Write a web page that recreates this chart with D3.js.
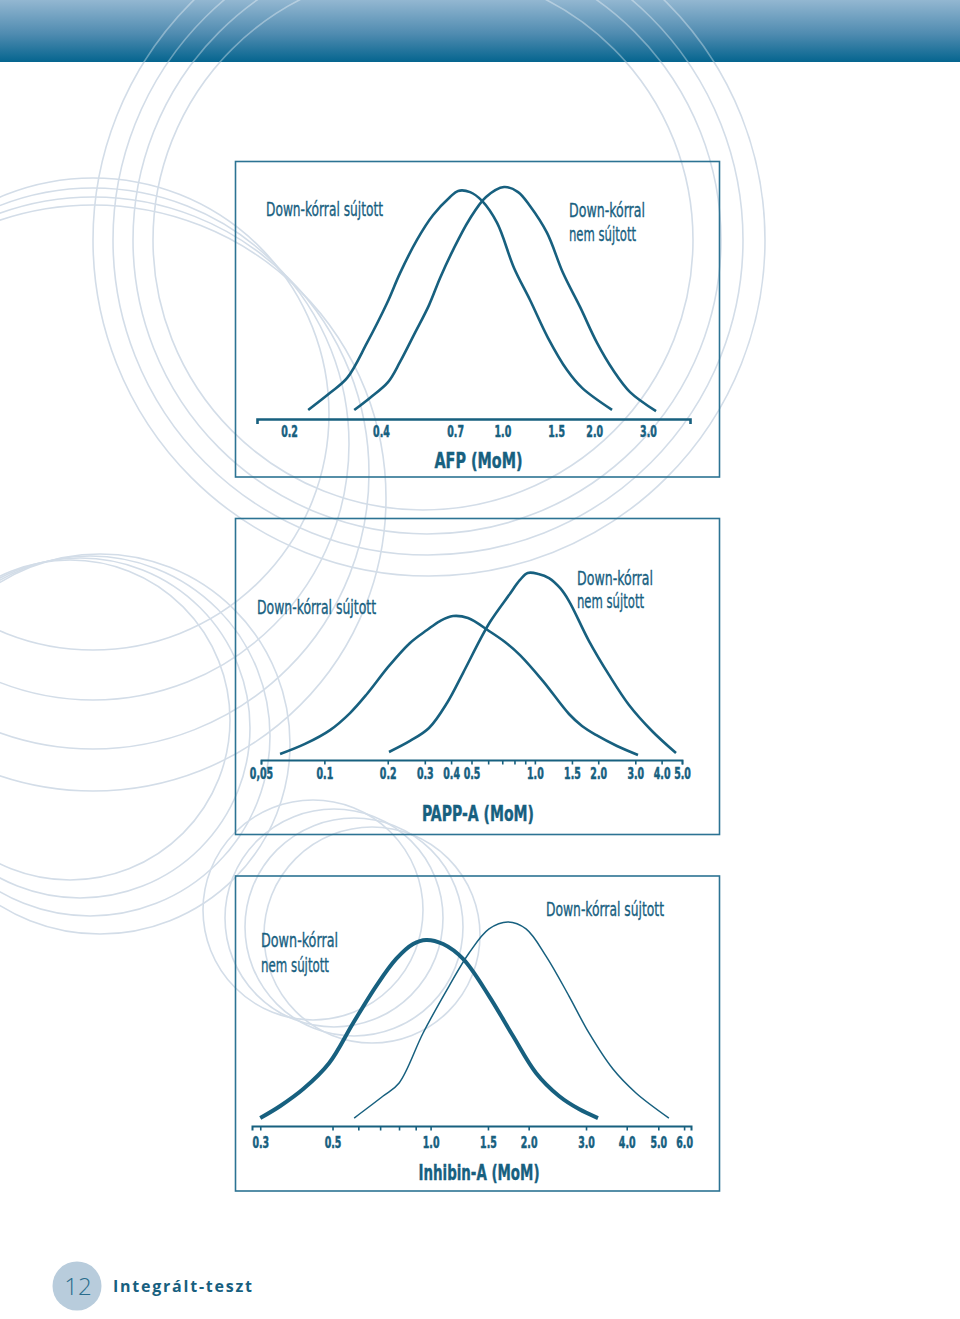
<!DOCTYPE html>
<html><head><meta charset="utf-8">
<script src="https://cdn.jsdelivr.net/npm/d3@7"></script>
<style>
html,body{margin:0;padding:0;background:#fff;}
svg{display:block;}
</style></head><body>
<svg id="chart" width="960" height="1319"></svg>
<script>
// ---------- DATA ----------
// AFP panel
const afpTicks = [0.2, 0.4, 0.7, 1.0, 1.5, 2.0, 3.0];
const afpTickLabels = ["0.2", "0.4", "0.7", "1.0", "1.5", "2.0", "3.0"];
const afpAffected = [[0.231,3.9],[0.272,11.2],[0.310,17.7],[0.360,32.8],[0.419,50],[0.462,62.9],[0.525,77.2],[0.593,87.9],[0.674,95.7],[0.716,98.3],[0.784,97.8],[0.858,94.0],[0.961,84.5],[1.092,65.1],[1.232,51.3],[1.412,34.9],[1.629,21.1],[1.825,13.4],[2.288,3.9]];
const afpUnaffected = [[0.327,3.9],[0.368,9.1],[0.422,15.9],[0.462,24.6],[0.517,37.1],[0.575,49.1],[0.625,60.8],[0.689,72.8],[0.778,85.8],[0.884,95.7],[1.013,100],[1.126,97.8],[1.232,91.8],[1.401,80.2],[1.581,62.9],[1.797,48.3],[2.043,32.8],[2.306,21.1],[2.621,11.6],[3.189,3.4]];
// PAPP-A panel
const pappTicks = [0.05, 0.1, 0.2, 0.3, 0.4, 0.5, 0.6, 0.7, 0.8, 0.9, 1.0, 1.5, 2.0, 3.0, 4.0, 5.0];
const pappTickLabels = ["0,05", "0.1", "0.2", "0.3", "0.4", "0.5", "", "", "", "", "1.0", "1.5", "2.0", "3.0", "4.0", "5.0"];
const pappAffected = [[0.0616,3.2],[0.0809,8.6],[0.1064,16.0],[0.1324,25.1],[0.1594,35.3],[0.2028,50.3],[0.2552,62.6],[0.3073,69.5],[0.3543,74.3],[0.4084,77.0],[0.4812,75.9],[0.6055,69.0],[0.7213,63.1],[0.8499,56.1],[1.0931,42.2],[1.4527,24.6],[1.6746,18.2],[1.9517,13.4],[2.4557,7.5],[3.0897,2.7]];
const pappUnaffected = [[0.2028,4.3],[0.2552,10.2],[0.3141,17.1],[0.3825,30.5],[0.4556,46.5],[0.5487,64.2],[0.6121,73.8],[0.7536,88.2],[0.8499,96.3],[0.9250,100],[1.0400,99.5],[1.1672,97.3],[1.3164,92.0],[1.4527,85.0],[1.8079,63.6],[2.2499,45.5],[2.8002,29.4],[3.6013,15.5],[4.6823,3.7]];
// Inhibin-A panel
const inhTicks = [0.3, 0.5, 0.6, 0.7, 0.8, 0.9, 1.0, 1.5, 2.0, 3.0, 4.0, 5.0, 6.0];
const inhTickLabels = ["0.3", "0.5", "", "", "", "", "1.0", "1.5", "2.0", "3.0", "4.0", "5.0", "6.0"];
const inhUnaffected = [[0.300,3.9],[0.3455,9.8],[0.4064,18.1],[0.4884,30.9],[0.5786,50.5],[0.6806,68.6],[0.7839,81.9],[0.8838,89.2],[0.9688,91.2],[1.0924,89.2],[1.2581,81.9],[1.5117,63.7],[1.7908,44.1],[2.1068,26.0],[2.4784,14.7],[2.8542,8.3],[3.2642,3.9]];
const inhAffected = [[0.5826,3.9],[0.7151,14.7],[0.8006,21.1],[0.9485,45.6],[1.1396,68.6],[1.3126,84.8],[1.5117,96.6],[1.7287,100],[1.9631,96.6],[2.261,83.3],[2.6597,63.7],[3.063,45.6],[3.629,27.9],[4.2693,16.2],[5.389,3.9]];

const txtAffected = "Down-kórral sújtott";
const txtNot1 = "Down-kórral";
const txtNot2 = "nem sújtott";

// ---------- DRAWING ----------
const svg = d3.select("#chart");
const INK = "#17607f";
const BOX = "#2c7393";
const RING = "#d3dde8";
const narrow = "'Liberation Sans Narrow','DejaVu Sans Condensed','Roboto',sans-serif";

// decorative rings
const rings = [
  [429,240,336],[428,240,315],[427,240,294],[423,240,270],
  [93,414,236],[93,444,256],[93,473,276],[93,498,293],
  [70,720,160],[80,728,170],[90,736,180],[100,744,190],
  [313,910,110],[334,918,109],[354,927,109],[372,935,108]
];
const defs = svg.append("defs");
const grad = defs.append("linearGradient").attr("id","hdr").attr("x1",0).attr("y1",0).attr("x2",0).attr("y2",1);
grad.append("stop").attr("offset","0%").attr("stop-color","#93b7d1");
grad.append("stop").attr("offset","55%").attr("stop-color","#4f8bb0");
grad.append("stop").attr("offset","100%").attr("stop-color","#05658f");
defs.append("clipPath").attr("id","hclip").append("rect").attr("x",0).attr("y",0).attr("width",960).attr("height",62);

svg.append("g").selectAll("circle").data(rings).join("circle")
  .attr("cx",d=>d[0]).attr("cy",d=>d[1]).attr("r",d=>d[2])
  .attr("fill","none").attr("stroke",RING).attr("stroke-width",1.6);

svg.append("rect").attr("x",0).attr("y",0).attr("width",960).attr("height",62).attr("fill","url(#hdr)");
svg.append("g").attr("clip-path","url(#hclip)").selectAll("circle").data(rings).join("circle")
  .attr("cx",d=>d[0]).attr("cy",d=>d[1]).attr("r",d=>d[2])
  .attr("fill","none").attr("stroke","#ffffff").attr("stroke-opacity",0.35).attr("stroke-width",1.6);

function drawPanel(cfg){
  const g = svg.append("g");
  g.append("rect").attr("x",235.5).attr("y",cfg.boxTop).attr("width",484).attr("height",cfg.boxH)
    .attr("fill","none").attr("stroke",BOX).attr("stroke-width",1.6);
  const x = d3.scaleLog().domain(cfg.domain).range(cfg.range);
  const y = d3.scaleLinear().domain([0,100]).range([cfg.axisY, cfg.peakY]);
  const axis = d3.axisBottom(x).tickValues(cfg.ticks)
    .tickFormat((d,i)=>cfg.labels[i]).tickSize(cfg.tickSize).tickSizeOuter(cfg.outer);
  const ax = g.append("g").attr("transform",`translate(0,${cfg.axisY})`).call(axis);
  ax.select(".domain").attr("stroke",INK).attr("stroke-width",cfg.axisW);
  ax.selectAll(".tick line").attr("stroke",INK).attr("stroke-width",1.6);
  ax.selectAll(".tick text").attr("y",cfg.labelY).attr("dy",0)
    .attr("transform","scale(0.7,1)")
    .attr("fill",INK).attr("stroke",INK).attr("stroke-width",0.5)
    .attr("font-family",narrow).attr("font-weight","bold").attr("font-size",15);
  const line = d3.line().x(d=>x(d[0])).y(d=>y(d[1])).curve(d3.curveCatmullRom.alpha(0.5));
  cfg.curves.forEach(c=>{
    g.append("path").datum(c.data).attr("d",line).attr("fill","none")
      .attr("stroke",INK).attr("stroke-width",c.w).attr("stroke-linecap","butt");
  });
  cfg.texts.forEach(t=>{
    g.append("text").attr("x",t.x).attr("y",t.y).text(t.s)
      .attr("fill",INK).attr("stroke",INK).attr("stroke-width",0.35)
      .attr("font-family",narrow).attr("font-size",20)
      .attr("textLength",t.w).attr("lengthAdjust","spacingAndGlyphs");
  });
  g.append("text").attr("x",cfg.titleX).attr("y",cfg.titleY).attr("text-anchor","middle").text(cfg.title)
    .attr("fill",INK).attr("stroke",INK).attr("stroke-width",0.4)
    .attr("font-family",narrow).attr("font-weight","bold").attr("font-size",21)
    .attr("textLength",cfg.titleW).attr("lengthAdjust","spacingAndGlyphs");
}

drawPanel({
  boxTop:161.5, boxH:315.5, domain:[0.157,4.12], range:[257,690], axisY:419, peakY:187,
  ticks:afpTicks, labels:afpTickLabels, tickSize:0, outer:5, axisW:2.6, labelY:18.5,
  curves:[{data:afpAffected,w:2.6},{data:afpUnaffected,w:2.6}],
  texts:[{s:txtAffected,x:266,y:216,w:117},{s:txtNot1,x:569,y:216.5,w:76},{s:txtNot2,x:569,y:241,w:67}],
  title:"AFP (MoM)", titleX:478.5, titleY:468, titleW:88
});
drawPanel({
  boxTop:518.5, boxH:316, domain:[0.05,5], range:[261,682], axisY:760, peakY:573,
  ticks:pappTicks, labels:pappTickLabels, tickSize:4.5, outer:4.5, axisW:1.8, labelY:19,
  curves:[{data:pappAffected,w:2.6},{data:pappUnaffected,w:2.6}],
  texts:[{s:txtAffected,x:257,y:614,w:119},{s:txtNot1,x:577,y:584.5,w:76},{s:txtNot2,x:577,y:607.5,w:67}],
  title:"PAPP-A (MoM)", titleX:478, titleY:821, titleW:112
});
drawPanel({
  boxTop:876, boxH:315, domain:[0.283,6.3], range:[252,691], axisY:1126, peakY:922,
  ticks:inhTicks, labels:inhTickLabels, tickSize:4.5, outer:4.5, axisW:2, labelY:22,
  curves:[{data:inhUnaffected,w:4},{data:inhAffected,w:1.5}],
  texts:[{s:txtNot1,x:261,y:946.5,w:77},{s:txtNot2,x:261,y:972,w:68},{s:txtAffected,x:546,y:916,w:118}],
  title:"Inhibin-A (MoM)", titleX:479, titleY:1180, titleW:121
});

// footer
svg.append("circle").attr("cx",77).attr("cy",1286).attr("r",24.5).attr("fill","#b8ccdc");
svg.append("text").attr("x",78).attr("y",1295).attr("text-anchor","middle").text("12")
  .attr("fill","#2a6c8c").attr("font-family","'Open Sans',sans-serif").attr("font-weight",300).attr("font-size",24);
svg.append("text").attr("x",113).attr("y",1292).text("Integrált-teszt")
  .attr("fill","#17607f").attr("font-family","'Open Sans',sans-serif").attr("font-weight","bold").attr("font-size",16)
  .attr("textLength",139).attr("lengthAdjust","spacing");
</script>
</body></html>
